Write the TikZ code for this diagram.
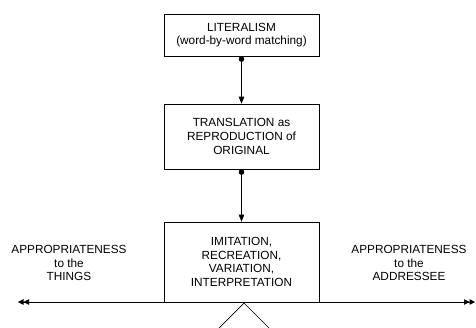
\documentclass[tikz,border=0pt]{standalone}
\usepackage[rgb]{xcolor}
\usepackage{fontspec}
\setmainfont{Liberation Sans}
\usetikzlibrary{arrows.meta}

\begin{document}
\begin{tikzpicture}[x=1pt, y=-1pt,
  box/.style={draw, line width=0.7pt, minimum width=155pt, align=center,
    inner sep=0pt, font=\fontsize{11.8}{13.7}\selectfont},
  side/.style={align=center, font=\fontsize{11.8}{13.7}\selectfont},
  link/.style={line width=0.7pt, {Circle[length=5.5pt]}-{Triangle[length=7pt, width=5.5pt]}}]

\useasboundingbox (0,0) rectangle (476,327);

% three modes stacked down the middle
\path
(241.5,35) node [box, minimum height=42pt] (literal){LITERALISM\\(word-by-word matching)};
\path
(241.5,136.5) node [box, minimum height=65pt] (reproduce){TRANSLATION as\\REPRODUCTION of\\ORIGINAL};
\path
(241.5,262) node [box, minimum height=80pt] (imitate){IMITATION,\\RECREATION,\\VARIATION,\\INTERPRETATION};

\draw[link] (literal) -- (reproduce);
\draw[link] (reproduce) -- (imitate);

%% the axis between the two kinds of appropriateness
\path
(18,302) coordinate (things)
(475,302) coordinate (addressee);
\draw[line width=0.7pt, {Triangle[length=5.5pt, width=5.5pt] Triangle[length=5.5pt, width=5.5pt]}-{Triangle[length=5.5pt, width=5.5pt] Triangle[length=5.5pt, width=5.5pt]}] (things) -- (addressee);

\path
(69,263) node [side] (leftlabel){APPROPRIATENESS\\to the\\THINGS};
\path
(409,263) node [side] (rightlabel){APPROPRIATENESS\\to the\\ADDRESSEE};

% fulcrum under the axis
\draw[line width=0.7pt] (219,328) -- (244,303) -- (269,328);

\end{tikzpicture}
\end{document}
